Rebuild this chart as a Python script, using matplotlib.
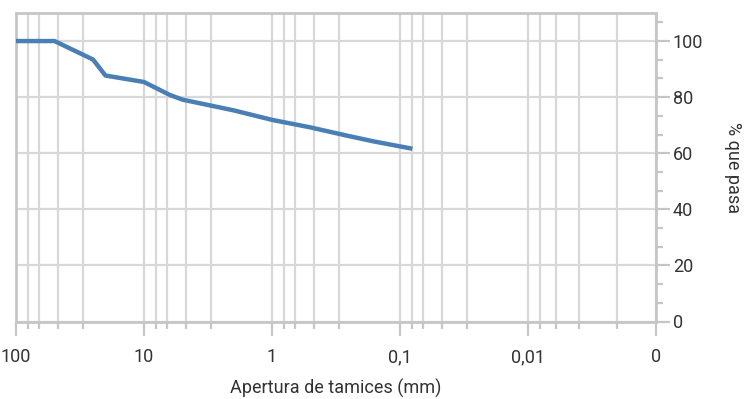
import matplotlib
matplotlib.use("Agg")
import matplotlib.pyplot as plt
import numpy as np

# Data
sieve_mm = [100, 50, 25, 20, 10, 6.3, 5, 2, 1, 0.5, 0.25, 0.16, 0.08]
passing = [100, 100, 93.4, 87.7, 85.4, 80.8, 79.1, 75.3, 71.9, 69.2, 66.1, 64.2, 61.6]

major_x = [100, 10, 1, 0.1, 0.01, 0.001]
major_x_labels = ["100", "10", "1", "0,1", "0,01", "0"]
minor_x = [81, 66, 47, 30, 8.1, 6.6, 4.7, 3.0, 0.81, 0.66, 0.47, 0.30,
           0.081, 0.066, 0.047, 0.030, 0.008, 0.006, 0.004, 0.002]
major_y = [0, 20, 40, 60, 80, 100]
minor_y = [20/3, 40/3, 80/3, 100/3, 140/3, 160/3, 200/3, 220/3, 260/3, 280/3, 320/3]

plt.rcParams['font.family'] = ['Roboto', 'DejaVu Sans']

fig = plt.figure(figsize=(7.44, 3.99), dpi=100)
ax = fig.add_axes([16/744, (399-321.5)/399, 640/744, 308.5/399])

grid_c = '#d8d8d8'
spine_c = '#c6c6c6'
text_c = '#333333'

ax.set_xscale('log')
ax.set_xlim(100, 0.001)
ax.set_ylim(0, 110)

ax.set_xticks(major_x)
ax.set_xticklabels(major_x_labels)
ax.set_xticks(minor_x, minor=True)
ax.xaxis.set_minor_formatter(matplotlib.ticker.NullFormatter())

ax.yaxis.tick_right()
ax.yaxis.set_label_position('right')
ax.set_yticks(major_y)
ax.set_yticks(minor_y, minor=True)

for x in major_x + minor_x:
    ax.axvline(x, color=grid_c, lw=1.6, zorder=1)
for y in major_y:
    ax.axhline(y, color=grid_c, lw=1.6, zorder=1)

ax.plot(sieve_mm, passing, color='#4a7fb5', lw=3.2, solid_joinstyle='round',
        solid_capstyle='butt', zorder=3)

for s in ax.spines.values():
    s.set_color(spine_c)
    s.set_linewidth(2)

fs = 13
ax.tick_params(axis='x', which='major', length=10, width=1.6, color=spine_c,
               labelsize=fs, labelcolor=text_c, pad=9)
ax.tick_params(axis='x', which='minor', length=5, width=1.6, color=spine_c)
ax.tick_params(axis='y', which='major', length=10, width=1.6, color=spine_c,
               labelsize=fs, labelcolor=text_c, pad=2, right=True, left=False)
ax.tick_params(axis='y', which='minor', length=5, width=1.6, color=spine_c,
               right=True, left=False)

ax.set_xlabel("Apertura de tamices (mm)", fontsize=fs, color=text_c, labelpad=9)
ax.set_ylabel("% que pasa", fontsize=fs, color=text_c, rotation=270, labelpad=28)

fig.savefig("out.png", dpi=100)
